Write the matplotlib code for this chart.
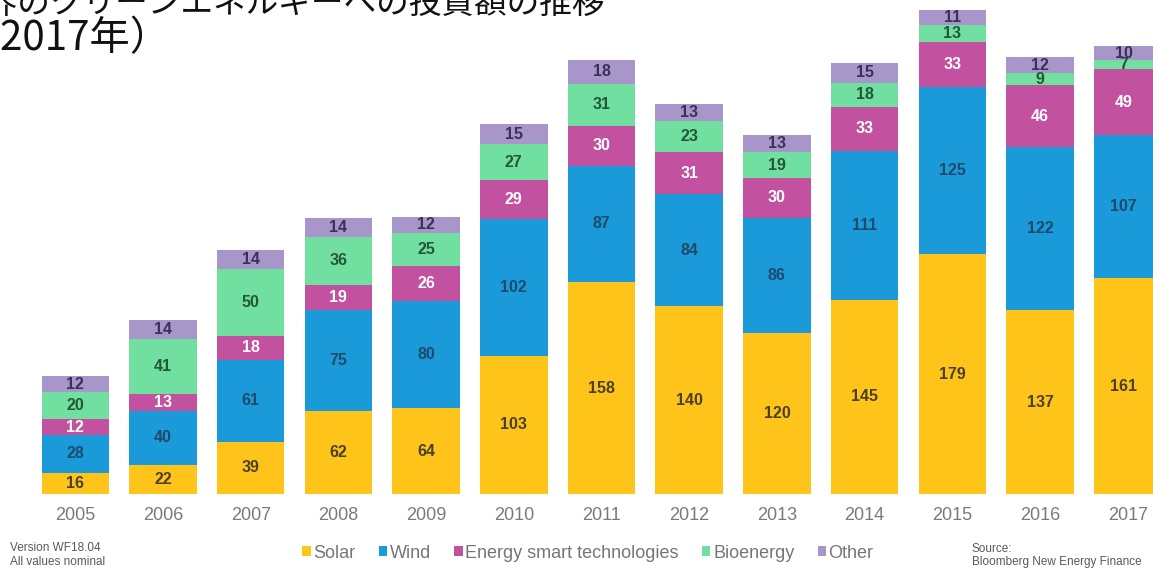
import matplotlib
matplotlib.use("Agg")
import matplotlib.pyplot as plt
from matplotlib.patches import Patch

# Annual clean-energy investment by sector ($bn)
years = ["2005", "2006", "2007", "2008", "2009", "2010", "2011",
         "2012", "2013", "2014", "2015", "2016", "2017"]
solar = [16, 22, 39, 62, 64, 103, 158, 140, 120, 145, 179, 137, 161]
wind = [28, 40, 61, 75, 80, 102, 87, 84, 86, 111, 125, 122, 107]
smart = [12, 13, 18, 19, 26, 29, 30, 31, 30, 33, 33, 46, 49]
bio = [20, 41, 50, 36, 25, 27, 31, 23, 19, 18, 13, 9, 7]
other = [12, 14, 14, 14, 12, 15, 18, 13, 13, 15, 11, 12, 10]

series_names = ["Solar", "Wind", "Energy smart technologies", "Bioenergy", "Other"]
series_values = [solar, wind, smart, bio, other]
fill_colors = ["#FFC41A", "#1A9AD8", "#C2519F", "#70DF9F", "#A896CA"]
text_colors = ["#4A4028", "#1E4A6C", "#FFFFFF", "#24563A", "#3A3154"]

title_line1 = "世界のクリーンエネルギーへの投資額の推移"
title_line2 = "（2005～2017年）"

W, H = 1153, 568
fig = plt.figure(figsize=(W / 100, H / 100), dpi=100)
fig.patch.set_facecolor("white")

# pixel geometry of the plotting area
base_px = 494          # baseline, from top
px_per_unit = 1.34
first_center = 75.3
spacing = 87.7
bar_px = 67.5

ax = fig.add_axes([0, (H - base_px) / H, 1, base_px / H])
x = list(range(len(years)))
ax.set_xlim(-first_center / spacing, (W - first_center) / spacing)
ax.set_ylim(0, base_px / px_per_unit)
for s in ax.spines.values():
    s.set_visible(False)
ax.set_yticks([])

width = bar_px / spacing
bottoms = [0] * len(years)
for name, vals, fc, tc in zip(series_names, series_values, fill_colors, text_colors):
    bars = ax.bar(x, vals, width=width, bottom=bottoms, color=fc,
                  edgecolor="none", label=name)
    ax.bar_label(bars, labels=[str(v) for v in vals], label_type="center",
                 color=tc, fontsize=11.5, fontweight="bold",
                 family="Liberation Sans")
    bottoms = [b + v for b, v in zip(bottoms, vals)]

ax.set_xticks(x)
ax.set_xticklabels(years, fontsize=13, color="#7A7A7A", family="Liberation Sans")
ax.tick_params(axis="x", length=0, pad=9)

# title (runs past the top-left edge of the canvas)
cjk = ["Noto Sans CJK JP", "DejaVu Sans"]
fig.text(605 / W, 1 - 5 / H, title_line1, ha="right", va="center",
         fontsize=23.5, family=cjk, color="#111111")
fig.text(170 / W, 1 - 39 / H, title_line2, ha="right", va="center",
         fontsize=29, family=cjk, color="#111111")

# legend
handles = [Patch(facecolor=c, edgecolor="none") for c in fill_colors]
fig.legend(handles, series_names, loc="center", bbox_to_anchor=(588 / W, 1 - 553 / H),
           ncol=5, frameon=False, handlelength=0.45, handleheight=0.45,
           handletextpad=0.15, columnspacing=1.3,
           prop={"family": "Liberation Sans", "size": 13}, labelcolor="#767676")

# footnotes
foot = dict(fontsize=8.5, color="#5A5A5A", va="center", family="Liberation Sans")
fig.text(10 / W, 1 - 548 / H, "Version WF18.04", **foot)
fig.text(10 / W, 1 - 562 / H, "All values nominal", **foot)
fig.text(972 / W, 1 - 549 / H, "Source:", **foot)
fig.text(972 / W, 1 - 562 / H, "Bloomberg New Energy Finance", **foot)

fig.savefig("out.png", dpi=100)
